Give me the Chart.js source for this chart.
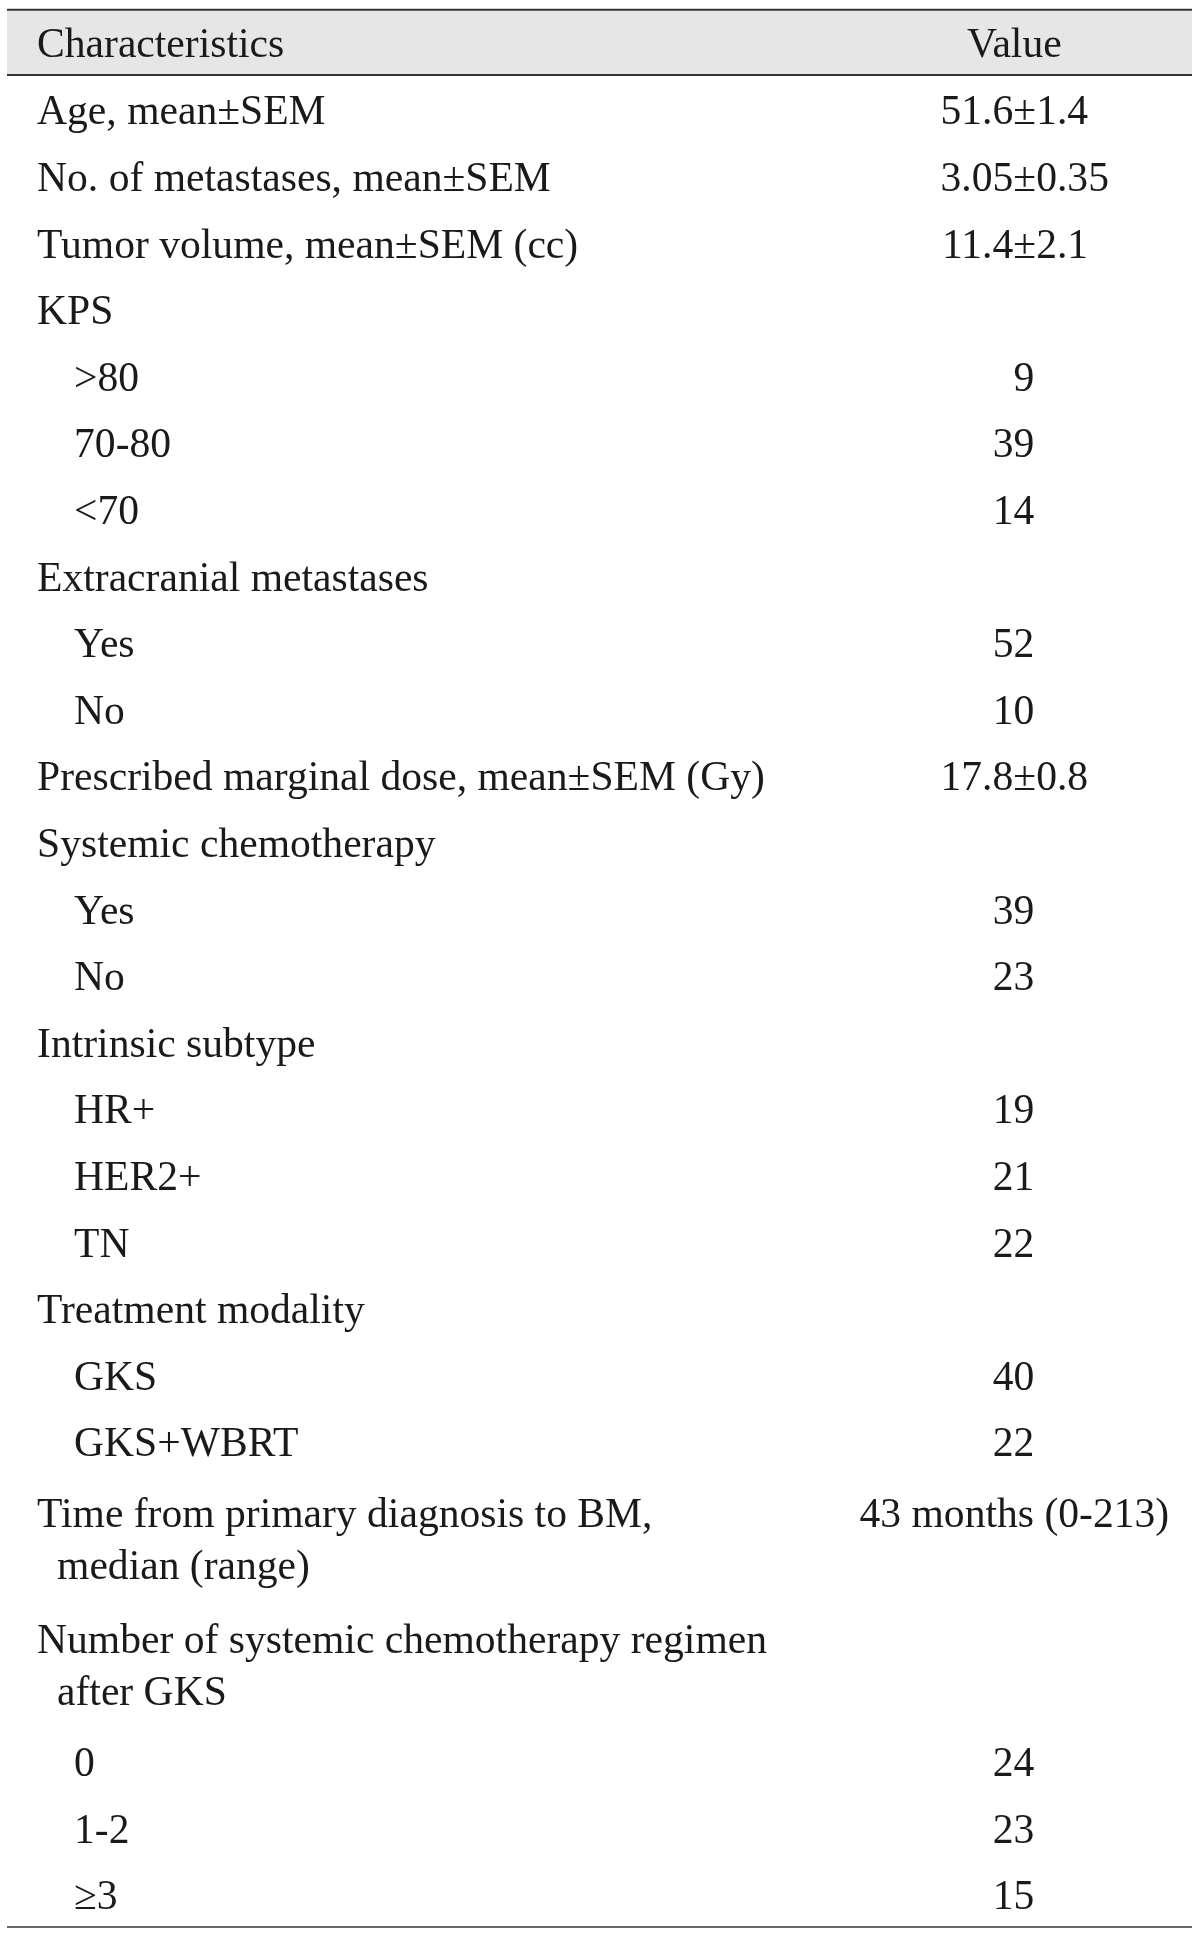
<!DOCTYPE html>
<html lang="en">
<head>
<meta charset="UTF-8">
<meta name="viewport" content="width=device-width, initial-scale=1.0">
<title>Patient characteristics</title>
<script src="https://cdn.jsdelivr.net/npm/chart.js"></script>
<style>
  html, body { margin: 0; padding: 0; background: #fff; }
  #wrap { width: 1200px; height: 1934px; }
</style>
</head>
<body>
<div id="wrap"><canvas id="myChart"></canvas></div>

<script>
// table content
const headers = ['Characteristics', 'Value'];

// '\n' marks where a long label wraps onto a second line
const characteristics = [
  'Age, mean±SEM',
  'No. of metastases, mean±SEM',
  'Tumor volume, mean±SEM (cc)',
  'KPS',
  '>80',
  '70-80',
  '<70',
  'Extracranial metastases',
  'Yes',
  'No',
  'Prescribed marginal dose, mean±SEM (Gy)',
  'Systemic chemotherapy',
  'Yes',
  'No',
  'Intrinsic subtype',
  'HR+',
  'HER2+',
  'TN',
  'Treatment modality',
  'GKS',
  'GKS+WBRT',
  'Time from primary diagnosis to BM,\nmedian (range)',
  'Number of systemic chemotherapy regimen\nafter GKS',
  '0',
  '1-2',
  '≥3'
];

// 0 = main characteristic, 1 = sub-category
const levels = [0, 0, 0, 0, 1, 1, 1, 0, 1, 1, 0, 0, 1, 1, 0, 1, 1, 1, 0, 1, 1, 0, 0, 1, 1, 1];

const values = [
  '51.6±1.4', '3.05±0.35', '11.4±2.1', '',
  '9', '39', '14', '',
  '52', '10', '17.8±0.8', '',
  '39', '23', '',
  '19', '21', '22', '',
  '40', '22', '43 months (0-213)', '',
  '24', '23', '15'
];

// layout: one y unit = one row
const lineGap = 0.78;   // between wrapped lines of one row
const wrapPad = 0.06;   // extra space around wrapped rows
const nLines = characteristics.map(s => s.split('\n').length);
const rowY = [];
let acc = 0;
characteristics.forEach((s, i) => {
  if (i > 0) {
    acc += (nLines[i - 1] - 1) * lineGap + 1;
    if (nLines[i - 1] > 1) acc += wrapPad;
    if (nLines[i] > 1) acc += wrapPad;
  }
  rowY.push(acc);
});
const headerY = -1.005;

const FONT = '41.6px "Liberation Serif", "DejaVu Serif", serif';
const INK = '#1a1a1a';

const tablePlugin = {
  id: 'tableText',
  beforeDatasetsDraw(chart) {
    const ctx = chart.ctx;
    const y = chart.scales.y;
    const left = 7, right = 1192;
    const top = y.getPixelForValue(headerY - 0.55);
    const headBottom = y.getPixelForValue(headerY + 0.43);
    const bottom = y.getPixelForValue(rowY[rowY.length - 1] + 0.43);
    ctx.save();
    ctx.fillStyle = '#e6e6e6';
    ctx.fillRect(left, top, right - left, headBottom - top);
    ctx.lineWidth = 2;
    ctx.strokeStyle = '#333';
    [top, headBottom].forEach(p => {
      ctx.beginPath(); ctx.moveTo(left, p); ctx.lineTo(right, p); ctx.stroke();
    });
    ctx.strokeStyle = '#666';
    ctx.beginPath(); ctx.moveTo(left, bottom); ctx.lineTo(right, bottom); ctx.stroke();
    ctx.restore();
  },
  afterDatasetsDraw(chart) {
    const ctx = chart.ctx;
    const xs = chart.scales.x, ys = chart.scales.y;
    ctx.save();
    ctx.font = FONT;
    ctx.fillStyle = INK;
    ctx.textBaseline = 'middle';

    // header row
    const hy = ys.getPixelForValue(headerY);
    ctx.textAlign = 'left';
    ctx.fillText(headers[0], xs.getPixelForValue(0), hy);
    ctx.textAlign = 'center';
    ctx.fillText(headers[1], xs.getPixelForValue(1), hy);

    // label column
    chart.getDatasetMeta(0).data.forEach((pt, i) => {
      const lines = characteristics[i].split('\n');
      ctx.textAlign = 'left';
      lines.forEach((line, j) => {
        const indent = levels[i] === 1 ? 37 : (j > 0 ? 20 : 0);
        ctx.fillText(line, pt.x + indent, ys.getPixelForValue(rowY[i] + j * lineGap));
      });
    });

    // value column: counts right aligned, mean±SEM aligned on ±, others centred
    chart.getDatasetMeta(1).data.forEach((pt, i) => {
      const v = values[i];
      if (!v) return;
      if (/^\d+$/.test(v)) {
        ctx.textAlign = 'right';
        ctx.fillText(v, pt.x + 20, pt.y);
      } else if (v.includes('±')) {
        const k = v.indexOf('±');
        ctx.textAlign = 'right';
        ctx.fillText(v.slice(0, k), pt.x - 1, pt.y);
        ctx.textAlign = 'left';
        ctx.fillText(v.slice(k), pt.x - 1, pt.y);
      } else {
        ctx.textAlign = 'center';
        ctx.fillText(v, pt.x, pt.y);
      }
    });
    ctx.restore();
  }
};

const ctx = document.getElementById('myChart').getContext('2d');
const myChart = new Chart(ctx, {
  type: 'scatter',
  data: {
    datasets: [
      { label: headers[0], data: rowY.map(y => ({ x: 0, y: y })), pointRadius: 0 },
      { label: headers[1], data: rowY.map(y => ({ x: 1, y: y })), pointRadius: 0 }
    ]
  },
  options: {
    responsive: true,
    maintainAspectRatio: false,
    animation: false,
    events: [],
    layout: { padding: 0 },
    plugins: { legend: { display: false }, tooltip: { enabled: false } },
    scales: {
      x: { type: 'linear', display: false, min: -0.0379, max: 1.19 },
      y: { type: 'linear', display: false, reverse: true, min: -1.703, max: 27.336 }
    }
  },
  plugins: [tablePlugin]
});
</script>
</body>
</html>
